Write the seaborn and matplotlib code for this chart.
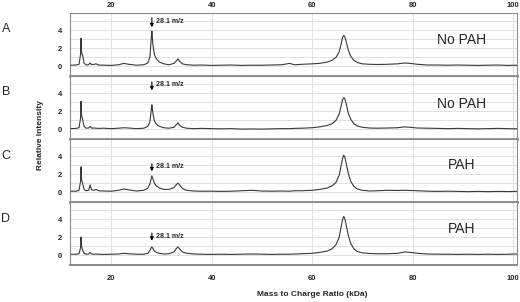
import numpy as np
import pandas as pd
import matplotlib
matplotlib.use("Agg")
import matplotlib.pyplot as plt
import seaborn as sns

# mass axis (kDa), shared by the four spectra
mass = [12.0, 13.0, 13.6, 13.9, 14.0, 14.1, 14.3, 14.6, 15.0, 15.5, 15.8, 16.1,
        16.6, 17.0, 17.5, 18.5, 20.0, 21.5, 22.5, 23.5, 25.0, 26.5, 27.3, 27.7,
        28.0, 28.1, 28.3, 28.6, 29.0, 29.6, 30.5, 31.5, 32.5, 33.0, 33.3, 33.6,
        34.2, 35.0, 36.5, 38.0, 40.0, 42.0, 44.0, 46.0, 48.0, 50.0, 52.0, 54.0,
        55.5, 56.5, 58.0, 60.0, 61.5, 63.0, 64.0, 64.8, 65.4, 65.8, 66.1, 66.3,
        66.5, 66.8, 67.2, 67.7, 68.3, 69.0, 70.0, 71.5, 73.0, 75.0, 77.0, 78.5,
        79.5, 81.0, 83.0, 85.0, 87.0, 89.0, 91.0, 93.0, 95.0, 97.0, 99.0, 100.8]

spec_a = [0.10, 0.12, 0.20, 1.30, 3.10, 1.50, 1.20, 0.35, 0.12, 0.15, 0.35, 0.15,
          0.20, 0.25, 0.12, 0.10, 0.08, 0.15, 0.30, 0.20, 0.10, 0.15, 0.35, 1.00,
          3.20, 3.90, 2.40, 1.30, 0.80, 0.45, 0.25, 0.15, 0.30, 0.60, 0.80, 0.55,
          0.25, 0.15, 0.10, 0.12, 0.08, 0.10, 0.12, 0.08, 0.10, 0.10, 0.12, 0.15,
          0.30, 0.15, 0.20, 0.25, 0.30, 0.45, 0.65, 1.00, 1.60, 2.50, 3.20, 3.40,
          3.30, 2.70, 1.80, 1.10, 0.65, 0.40, 0.25, 0.20, 0.18, 0.20, 0.25, 0.35,
          0.30, 0.20, 0.12, 0.12, 0.10, 0.12, 0.10, 0.08, 0.10, 0.12, 0.08, 0.10]

spec_b = [0.05, 0.08, 0.15, 1.20, 3.10, 1.60, 1.10, 0.30, 0.10, 0.12, 0.30, 0.10,
          0.12, 0.10, 0.08, 0.10, 0.05, 0.10, 0.15, 0.12, 0.05, 0.10, 0.30, 0.80,
          2.20, 2.70, 1.80, 0.90, 0.55, 0.30, 0.15, 0.10, 0.20, 0.50, 0.70, 0.45,
          0.20, 0.10, 0.05, 0.08, 0.05, 0.03, 0.05, 0.00, 0.02, 0.00, 0.03, 0.05,
          0.05, 0.08, 0.10, 0.15, 0.25, 0.40, 0.60, 1.00, 1.70, 2.60, 3.30, 3.50,
          3.40, 2.80, 1.80, 1.10, 0.60, 0.35, 0.20, 0.12, 0.10, 0.12, 0.15, 0.25,
          0.20, 0.12, 0.10, 0.08, 0.05, 0.08, 0.05, 0.03, 0.05, 0.08, 0.05, 0.03]

spec_c = [0.10, 0.10, 0.20, 1.20, 2.80, 1.40, 1.00, 0.30, 0.15, 0.20, 0.80, 0.25,
          0.20, 0.30, 0.15, 0.12, 0.10, 0.20, 0.35, 0.25, 0.12, 0.20, 0.45, 0.90,
          1.60, 1.80, 1.50, 1.00, 0.70, 0.45, 0.30, 0.30, 0.50, 0.85, 1.00, 0.80,
          0.40, 0.20, 0.12, 0.10, 0.10, 0.08, 0.10, 0.15, 0.20, 0.12, 0.10, 0.12,
          0.10, 0.15, 0.15, 0.20, 0.30, 0.45, 0.70, 1.10, 1.90, 3.00, 3.80, 4.10,
          3.90, 3.20, 2.10, 1.20, 0.65, 0.35, 0.20, 0.12, 0.15, 0.20, 0.18, 0.20,
          0.18, 0.15, 0.10, 0.08, 0.10, 0.08, 0.05, 0.08, 0.05, 0.08, 0.06, 0.08]

spec_d = [0.10, 0.10, 0.15, 0.80, 2.00, 1.00, 0.60, 0.20, 0.10, 0.12, 0.30, 0.12,
          0.10, 0.12, 0.10, 0.08, 0.10, 0.12, 0.20, 0.15, 0.10, 0.10, 0.20, 0.50,
          0.85, 0.90, 0.75, 0.45, 0.30, 0.20, 0.12, 0.15, 0.35, 0.75, 0.90, 0.70,
          0.35, 0.20, 0.12, 0.10, 0.08, 0.10, 0.08, 0.10, 0.12, 0.10, 0.08, 0.10,
          0.10, 0.12, 0.15, 0.20, 0.30, 0.45, 0.70, 1.20, 2.00, 3.20, 4.00, 4.30,
          4.10, 3.30, 2.20, 1.30, 0.70, 0.40, 0.25, 0.18, 0.15, 0.15, 0.20, 0.35,
          0.30, 0.20, 0.12, 0.10, 0.10, 0.08, 0.10, 0.08, 0.10, 0.08, 0.10, 0.12]

panel_letters = ["A", "B", "C", "D"]
panel_labels = ["No PAH", "No PAH", "PAH", "PAH"]
# arrow (top, tip) and label height for the 28.1 m/z marker in each panel
arrow_top = [5.35, 5.25, 3.15, 2.45]
arrow_tip = [4.3, 4.3, 2.3, 1.6]
marker_text_y = [5.0, 4.9, 2.8, 2.1]
condition_text_y = [2.9, 2.8, 3.0, 2.9]
x_ticks = [20, 40, 60, 80, 100]

spectra = [spec_a, spec_b, spec_c, spec_d]
for s in spectra:
    assert len(s) == len(mass)

sns.set_style("white")
plt.rcParams['font.family'] = ['Liberation Sans', 'DejaVu Sans']

fig, axes = plt.subplots(4, 1, figsize=(5.2, 3.02), dpi=100, sharex=True)
fig.subplots_adjust(left=70 / 520, right=517 / 520, top=1 - 13 / 302,
                    bottom=1 - 265 / 302, hspace=0.0)

frame = '#8a8a8a'
grid = '#dcdcdc'

for i, ax in enumerate(axes):
    df = pd.DataFrame({"mass": mass, "intensity": spectra[i]})
    sns.lineplot(data=df, x="mass", y="intensity", ax=ax, color='#383838',
                 lw=0.8, zorder=3)
    ax.set_xlim(11.8, 100.8)
    ax.set_ylim(-1.1, 5.9)
    ax.set_xticks(x_ticks)
    ax.set_yticks([0, 2, 4])
    ax.set_yticks([1, 3, 5], minor=True)
    ax.grid(which='both', axis='y', color=grid, lw=0.6, zorder=0)
    ax.grid(which='major', axis='x', color=grid, lw=0.6, zorder=0)
    ax.set_xlabel("")
    ax.set_ylabel("")
    ax.tick_params(which='both', length=0)
    ax.tick_params(axis='y', pad=6, labelsize=5.5)
    for lab in ax.get_yticklabels():
        lab.set_fontweight('bold')
    for side in ['top', 'left', 'right']:
        ax.spines[side].set_color(frame)
        ax.spines[side].set_linewidth(0.8)
    ax.spines['bottom'].set_color(frame)
    ax.spines['bottom'].set_linewidth(2.0 if i < 3 else 1.4)

    # 28.1 m/z marker
    ax.annotate('', xy=(28.1, arrow_tip[i]), xytext=(28.1, arrow_top[i]),
                arrowprops=dict(arrowstyle='-|>', color='black', lw=0.8,
                                mutation_scale=5, shrinkA=0, shrinkB=0))
    ax.text(29.0, marker_text_y[i], "28.1 m/z", fontsize=5, fontweight='bold',
            ha='left', va='center')
    ax.text(89.7, condition_text_y[i], panel_labels[i], fontsize=10,
            ha='center', va='center')

axes[0].tick_params(axis='x', labeltop=True, labelbottom=False, labelsize=5.5, pad=3)
axes[3].tick_params(axis='x', labelsize=5.5, pad=7)
for ax in (axes[0], axes[3]):
    for lab in ax.get_xticklabels():
        lab.set_fontweight('bold')

letter_y = [29, 92, 156, 219]
for letter, y in zip(panel_letters, letter_y):
    fig.text(6 / 520, 1 - y / 302, letter, fontsize=9, ha='center', va='center')

fig.text(40 / 520, 1 - 135 / 302, "Relative Intensity", rotation=90,
         fontsize=6, fontweight='bold', ha='center', va='center')
fig.text(312 / 520, 1 - 295 / 302, "Mass to Charge Ratio (kDa)",
         fontsize=6, fontweight='bold', ha='center', va='center')

fig.savefig("out.png", dpi=100)
